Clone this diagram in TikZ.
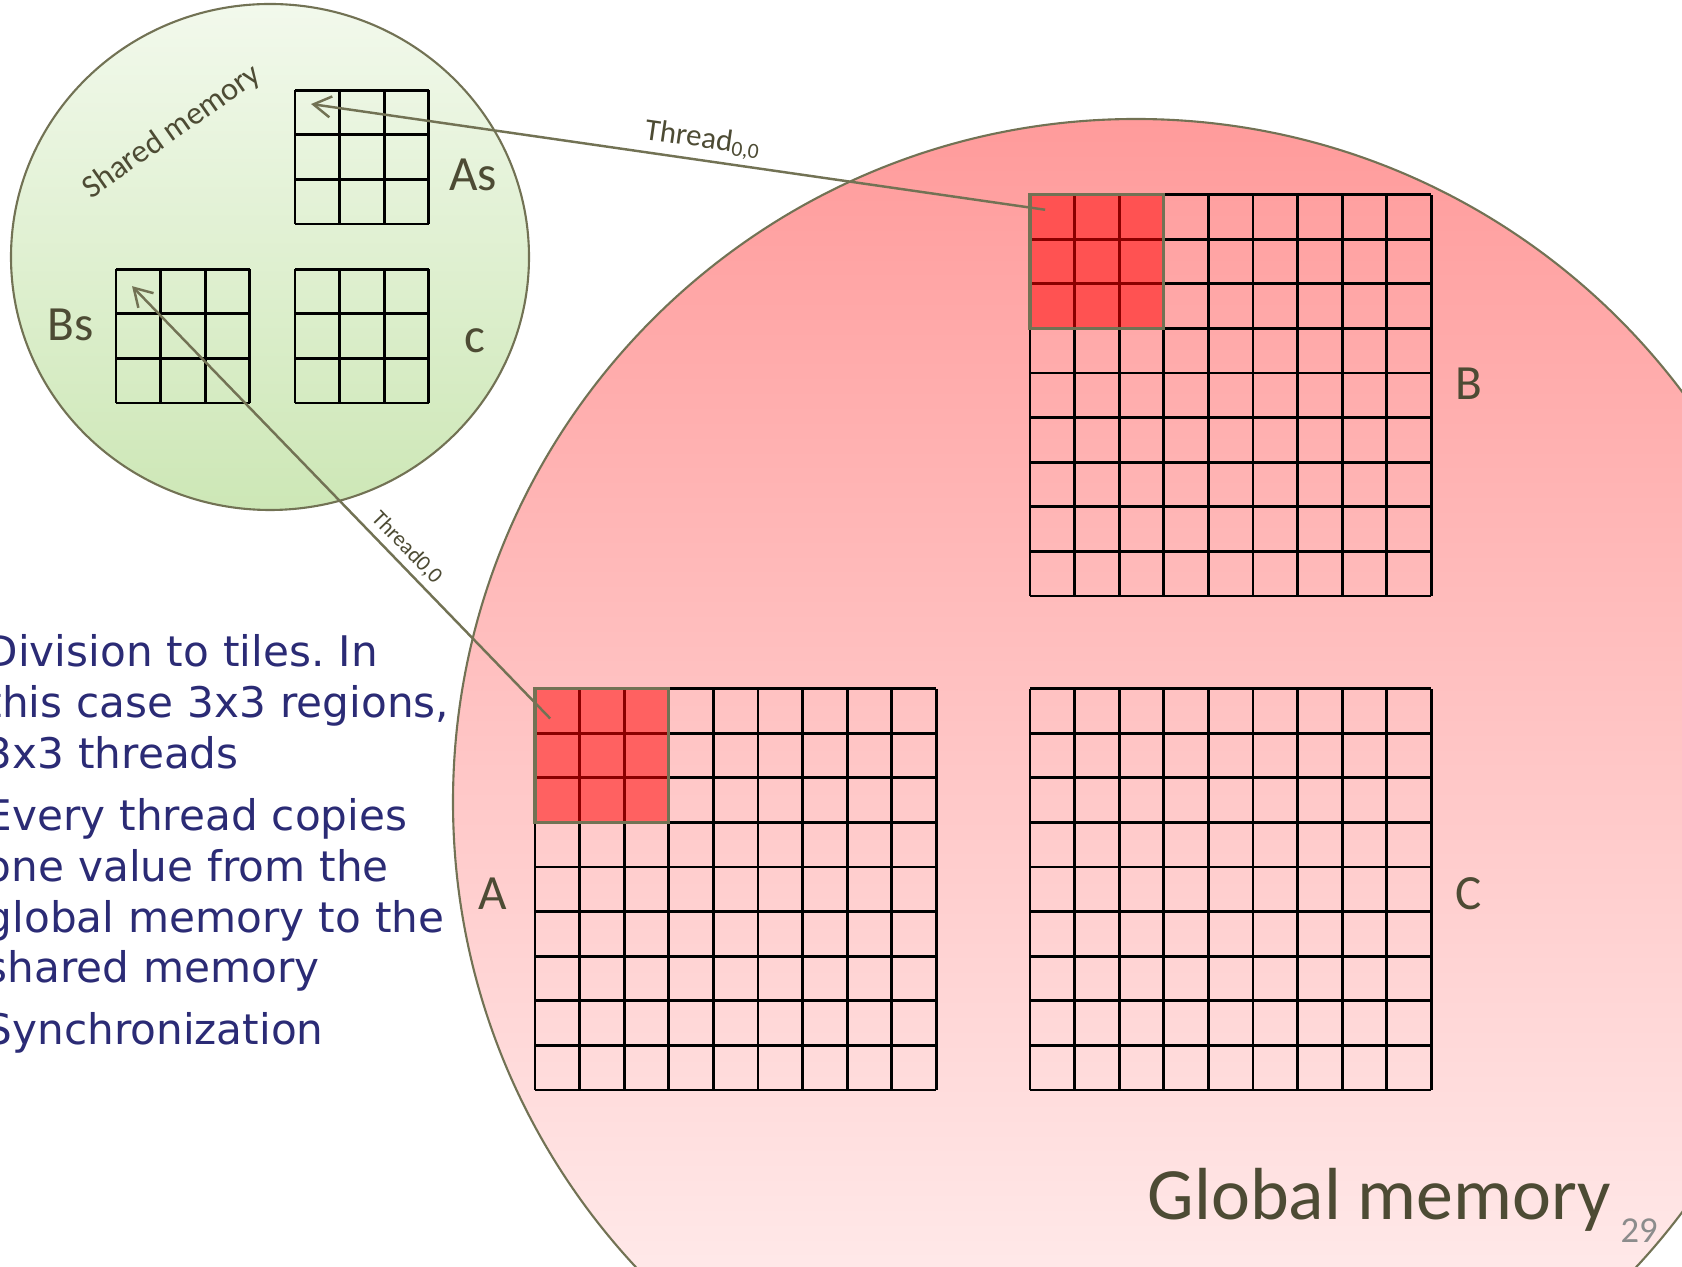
\documentclass[tikz,border=0pt]{standalone}
\usepackage{fontspec}
\setmainfont{Carlito}
\newfontfamily\bulletfont{DejaVu Sans}
\usetikzlibrary{arrows.meta}
\definecolor{memline}{RGB}{114,114,84}
\definecolor{memtext}{RGB}{77,75,52}
\definecolor{slidenavy}{RGB}{43,43,117}
\definecolor{globtop}{RGB}{255,155,155}
\definecolor{globbot}{RGB}{255,247,247}
\definecolor{shtop}{RGB}{242,249,236}
\definecolor{shbot}{RGB}{205,231,182}
\definecolor{tileB}{RGB}{255,82,82}
\definecolor{tileA}{RGB}{255,97,97}
\definecolor{tiledark}{RGB}{139,0,0}
\definecolor{pagegray}{RGB}{140,140,140}
\frenchspacing

\begin{document}
\begin{tikzpicture}[
    cellunit/.style={x=0.446cm, y=0.446cm},
    cellgrid/.style={draw=black, line width=0.8pt, step=1},
    tilegrid/.style={draw=tiledark, line width=0.8pt, step=1},
    tileedge/.style={draw=memline, line width=0.9pt},
    memedge/.style={draw=memline, line width=0.6pt},
    lbl/.style={font=\fontsize{14}{16}\selectfont, text=memtext, inner sep=0pt},
    copyarr/.style={-{Straight Barb[length=5pt,width=6pt]}, line width=0.7pt, memline},
    bullet/.style={anchor=base west, text width=6cm, align=left, inner sep=0pt,
                   text=slidenavy, font=\bulletfont\fontsize{12}{14.4}\selectfont}
  ]
  \useasboundingbox (0,0) rectangle (16.82,12.67);
  \clip (0,0) rectangle (16.82,12.67);

  % the two memories
  \draw[memedge, top color=globtop, bottom color=globbot] (11.36,4.65) circle (6.83);
  \draw[memedge, top color=shtop, bottom color=shbot] (2.70,10.10) ellipse [x radius=2.59, y radius=2.53];

  % global matrices
  \begin{scope}[shift={(10.30cm,6.71cm)}, cellunit]
    \fill[tileB] (0,6) rectangle (3,9);
    \draw[cellgrid] (0,0) grid (9,9);
    \draw[tilegrid] (0,6) grid (3,9);
    \draw[tileedge] (0,6) rectangle (3,9);
    \coordinate (bt) at (0.34,8.66);
  \end{scope}
  \begin{scope}[shift={(5.35cm,1.77cm)}, cellunit]
    \fill[tileA] (0,6) rectangle (3,9);
    \draw[cellgrid] (0,0) grid (9,9);
    \draw[tilegrid] (0,6) grid (3,9);
    \draw[tileedge] (0,6) rectangle (3,9);
    \coordinate (at) at (0.34,8.33);
  \end{scope}
  \begin{scope}[shift={(10.30cm,1.77cm)}, cellunit]
    \draw[cellgrid] (0,0) grid (9,9);
  \end{scope}

  % shared tiles
  \begin{scope}[shift={(2.95cm,10.43cm)}, cellunit]
    \draw[cellgrid] (0,0) grid (3,3);
    \coordinate (as0) at (0.36,2.69);
  \end{scope}
  \begin{scope}[shift={(1.16cm,8.64cm)}, cellunit]
    \draw[cellgrid] (0,0) grid (3,3);
    \coordinate (bs0) at (0.36,2.62);
  \end{scope}
  \begin{scope}[shift={(2.95cm,8.64cm)}, cellunit]
    \draw[cellgrid] (0,0) grid (3,3);
  \end{scope}

  % labels
  \node[lbl] (lAs) at (4.73,10.92) {As};
  \node[lbl] (lBs) at (0.71,9.42) {Bs};
  \node[lbl] (lc) at (4.75,9.26) {c};
  \node[lbl] (lB) at (14.69,8.83) {B};
  \node[lbl] (lA) at (4.93,3.73) {A};
  \node[lbl] (lC) at (14.69,3.73) {C};
  \node[lbl, rotate=35, font=\fontsize{9.2}{11}\selectfont] (lshared) at (1.72,11.35) {Shared memory};
  \node[anchor=base west, inner sep=0pt, text=memtext, font=\fontsize{21}{25}\selectfont] (gmem) at (11.47,0.47) {Global memory};
  \node[anchor=base west, inner sep=0pt, text=pagegray, font=\fontsize{10.4}{12}\selectfont] (pnum) at (16.20,0.24) {29};

  % copies into shared memory
  \draw[copyarr] (bt) -- node[pos=0.47, above, sloped, inner sep=1.5pt, text=memtext,
      font=\fontsize{8.8}{10}\selectfont] (thrB) {Thread\textsubscript{0,0}} (as0);
  \draw[copyarr] (at) -- node[pos=0.37, above, sloped, inner sep=1.5pt, text=memtext,
      font=\fontsize{6.3}{8}\selectfont] (thrA) {Thread0,0} (bs0);

  % slide text
  \node[bullet] (b1) at (-0.15,6.00) {Division to tiles. In\\this case 3x3 regions,\\3x3 threads};
  \node[bullet] (b2) at (-0.15,4.36) {Every thread copies\\one value from the\\global memory to the\\shared memory};
  \node[bullet] (b3) at (-0.15,2.22) {Synchronization};
\end{tikzpicture}
\end{document}
